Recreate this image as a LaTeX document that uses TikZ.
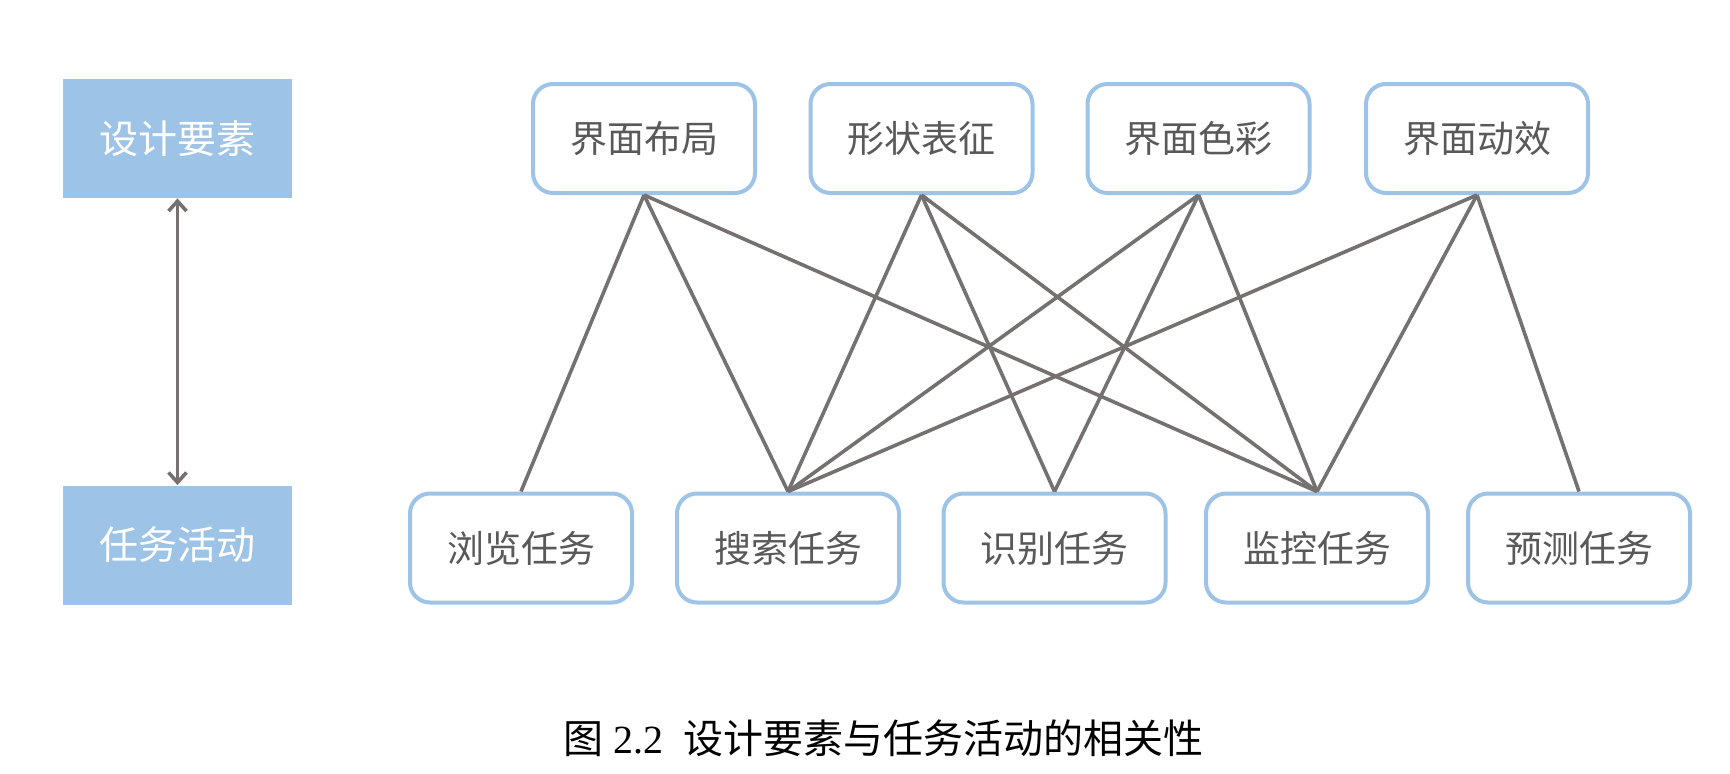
\documentclass[tikz,border=0pt]{standalone}
\usepackage{fontspec}
\setmainfont{Liberation Serif}
\newfontfamily\cjk{Noto Sans CJK SC}
\usetikzlibrary{arrows.meta}
\definecolor{boxblue}{RGB}{157,195,230}
\definecolor{linegray}{RGB}{118,113,113}
\definecolor{textgray}{RGB}{89,89,89}
\begin{document}
\begin{tikzpicture}[
  elem/.style={draw=boxblue,line width=2bp,rounded corners=10bp,fill=white,minimum width=111bp,minimum height=54.5bp,font=\cjk\fontsize{18.5bp}{20bp}\selectfont,text=textgray},
  side/.style={fill=boxblue,minimum width=114.5bp,minimum height=59.5bp,font=\cjk\fontsize{19.5bp}{22bp}\selectfont,text=white},
  link/.style={line width=1.8bp,draw=linegray}]
\useasboundingbox (0bp,0bp) rectangle (865bp,-387bp);
\node (L1) at (88.75bp,-69.25bp)[side] {设计要素};
\node (L2) at (88.75bp,-272.5bp)[side] {任务活动};
\draw [link,{Straight Barb[length=5pt,width=9pt]}-{Straight Barb[length=5pt,width=9pt]}] (L1) to (L2);
\node (T1) at (322bp,-69.25bp)[elem] {界面布局};
\node (T2) at (460.75bp,-69.25bp)[elem] {形状表征};
\node (T3) at (599.25bp,-69.25bp)[elem] {界面色彩};
\node (T4) at (738.5bp,-69.25bp)[elem] {界面动效};
\node (B1) at (260.5bp,-274bp)[elem] {浏览任务};
\node (B2) at (394bp,-274bp)[elem] {搜索任务};
\node (B3) at (527.25bp,-274bp)[elem] {识别任务};
\node (B4) at (658.5bp,-274bp)[elem] {监控任务};
\node (B5) at (789.5bp,-274bp)[elem] {预测任务};
\draw [link] (T1.south) to (B1.north);
\draw [link] (T1.south) to (B2.north);
\draw [link] (T1.south) to (B4.north);
\draw [link] (T2.south) to (B2.north);
\draw [link] (T2.south) to (B3.north);
\draw [link] (T2.south) to (B4.north);
\draw [link] (T3.south) to (B2.north);
\draw [link] (T3.south) to (B3.north);
\draw [link] (T3.south) to (B4.north);
\draw [link] (T4.south) to (B2.north);
\draw [link] (T4.south) to (B4.north);
\draw [link] (T4.south) to (B5.north);
\node (cap) at (441.5bp,-369bp)[font=\fontsize{20bp}{22bp}\selectfont] {{\cjk 图}~2.2~~{\cjk 设计要素与任务活动的相关性}};
\end{tikzpicture}
\end{document}
